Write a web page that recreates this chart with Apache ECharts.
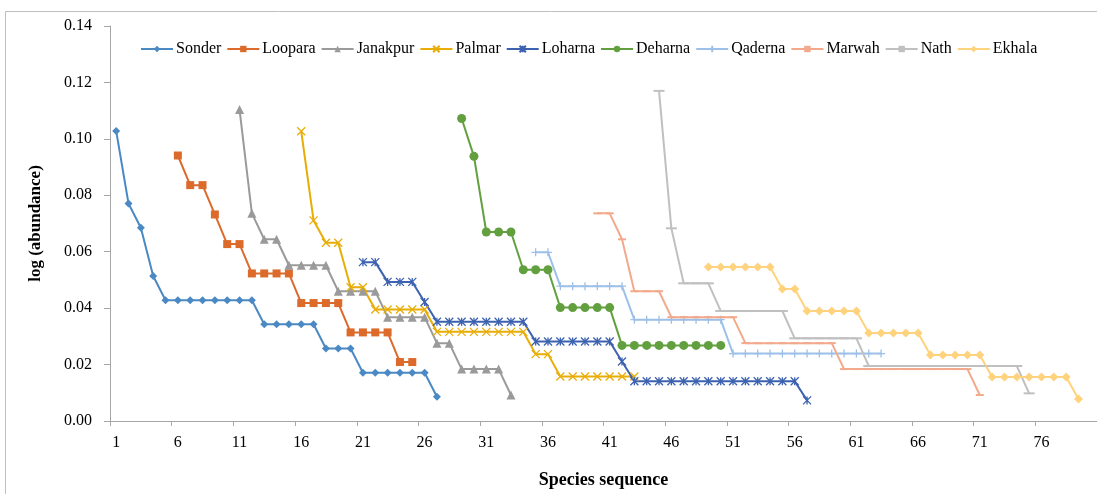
<!DOCTYPE html>
<html>
<head>
<meta charset="utf-8">
<script src="https://cdn.jsdelivr.net/npm/echarts@6.0.0/dist/echarts.min.js"></script>
<style>
  html, body { margin: 0; padding: 0; background: #fff; }
  #chart { width: 1097px; height: 494px; }
</style>
</head>
<body>
<div id="chart"></div>
<script>
// species sequence 1..80
var categories = [
  1, 2, 3, 4, 5, 6, 7, 8, 9, 10, 11, 12, 13, 14, 15, 16, 17, 18, 19, 20,
  21, 22, 23, 24, 25, 26, 27, 28, 29, 30, 31, 32, 33, 34, 35, 36, 37, 38, 39, 40,
  41, 42, 43, 44, 45, 46, 47, 48, 49, 50, 51, 52, 53, 54, 55, 56, 57, 58, 59, 60,
  61, 62, 63, 64, 65, 66, 67, 68, 69, 70, 71, 72, 73, 74, 75, 76, 77, 78, 79, 80
]
var yTicks = [0, 0.02, 0.04, 0.06, 0.08, 0.10, 0.12, 0.14]

// each site: first species position + log(abundance) values
var sonderStart = 1
var sonder = [0.1028, 0.0771, 0.0685, 0.0514,
  0.0428, 0.0428, 0.0428, 0.0428, 0.0428, 0.0428, 0.0428, 0.0428,
  0.0343, 0.0343, 0.0343, 0.0343, 0.0343,
  0.0257, 0.0257, 0.0257,
  0.0171, 0.0171, 0.0171, 0.0171, 0.0171, 0.0171,
  0.0086]
var looparaStart = 6
var loopara = [0.0941, 0.0836, 0.0836, 0.0732, 0.0627, 0.0627,
  0.0523, 0.0523, 0.0523, 0.0523,
  0.0418, 0.0418, 0.0418, 0.0418,
  0.0314, 0.0314, 0.0314, 0.0314,
  0.0209, 0.0209]
var janakpurStart = 11
var janakpur = [0.1104, 0.0736, 0.0644, 0.0644,
  0.0552, 0.0552, 0.0552, 0.0552,
  0.0460, 0.0460, 0.0460, 0.0460,
  0.0368, 0.0368, 0.0368, 0.0368,
  0.0276, 0.0276,
  0.0184, 0.0184, 0.0184, 0.0184,
  0.0092]
var palmarStart = 16
var palmar = [0.1027, 0.0711, 0.0632, 0.0632, 0.0474, 0.0474,
  0.0395, 0.0395, 0.0395, 0.0395, 0.0395,
  0.0316, 0.0316, 0.0316, 0.0316, 0.0316, 0.0316, 0.0316, 0.0316,
  0.0237, 0.0237,
  0.0158, 0.0158, 0.0158, 0.0158, 0.0158, 0.0158, 0.0158]
var loharnaStart = 21
var loharna = [0.0563, 0.0563, 0.0493, 0.0493, 0.0493, 0.0422,
  0.0352, 0.0352, 0.0352, 0.0352, 0.0352, 0.0352, 0.0352, 0.0352,
  0.0282, 0.0282, 0.0282, 0.0282, 0.0282, 0.0282, 0.0282,
  0.0211,
  0.0141, 0.0141, 0.0141, 0.0141, 0.0141, 0.0141, 0.0141,
  0.0141, 0.0141, 0.0141, 0.0141, 0.0141, 0.0141, 0.0141,
  0.0073]
var deharnaStart = 29
var deharna = [0.1072, 0.0938, 0.0670, 0.0670, 0.0670,
  0.0536, 0.0536, 0.0536,
  0.0402, 0.0402, 0.0402, 0.0402, 0.0402,
  0.0268, 0.0268, 0.0268, 0.0268, 0.0268, 0.0268, 0.0268, 0.0268, 0.0268]
var qadernaStart = 35
var qaderna = [0.0598, 0.0598,
  0.0478, 0.0478, 0.0478, 0.0478, 0.0478, 0.0478,
  0.0359, 0.0359, 0.0359, 0.0359, 0.0359, 0.0359, 0.0359, 0.0359,
  0.0239, 0.0239, 0.0239, 0.0239, 0.0239, 0.0239, 0.0239,
  0.0239, 0.0239, 0.0239, 0.0239, 0.0239, 0.0239]
var marwahStart = 40
var marwah = [0.0736, 0.0736, 0.0644,
  0.0460, 0.0460, 0.0460,
  0.0368, 0.0368, 0.0368, 0.0368, 0.0368, 0.0368,
  0.0276, 0.0276, 0.0276, 0.0276, 0.0276, 0.0276, 0.0276, 0.0276,
  0.0184, 0.0184, 0.0184, 0.0184, 0.0184, 0.0184, 0.0184, 0.0184, 0.0184, 0.0184, 0.0184,
  0.0092]
var nathStart = 45
var nath = [0.1170, 0.0683, 0.0488, 0.0488, 0.0488,
  0.0390, 0.0390, 0.0390, 0.0390, 0.0390, 0.0390,
  0.0293, 0.0293, 0.0293, 0.0293, 0.0293, 0.0293,
  0.0195, 0.0195, 0.0195, 0.0195, 0.0195, 0.0195, 0.0195,
  0.0195, 0.0195, 0.0195, 0.0195, 0.0195, 0.0195,
  0.0098]
var ekhalaStart = 49
var ekhala = [0.0546, 0.0546, 0.0546, 0.0546, 0.0546, 0.0546,
  0.0468, 0.0468,
  0.0390, 0.0390, 0.0390, 0.0390, 0.0390,
  0.0312, 0.0312, 0.0312, 0.0312, 0.0312,
  0.0234, 0.0234, 0.0234, 0.0234, 0.0234,
  0.0156, 0.0156, 0.0156, 0.0156, 0.0156, 0.0156, 0.0156,
  0.0078]

var FONT = 'Liberation Serif'

// marker shapes Excel uses that echarts has no builtin for
var SYM_X = 'path://M0,0L10,10M10,0L0,10'
var SYM_STAR = 'path://M0,0L10,10M10,0L0,10M5,0L5,10'
var SYM_PLUS = 'path://M5,0L5,10M0,5L10,5'
var SYM_DASH = 'path://M0,0H10V2H0Z'

// pad a site's values so they sit at their species positions
function place (start, values) {
  var out = []
  for (var i = 1; i < start; i++) out.push(null)
  return out.concat(values)
}

function makeSeries (name, start, values, color, symbol, size, stroke) {
  return {
    name: name,
    type: 'line',
    data: place(start, values),
    symbol: symbol,
    symbolSize: size,
    showSymbol: true,
    showAllSymbol: true,
    connectNulls: false,
    lineStyle: { color: color, width: 2 },
    itemStyle: stroke
      ? { color: color, borderColor: color, borderWidth: 1.3 }
      : { color: color, borderWidth: 0 },
    emphasis: { disabled: true }
  }
}

var chart = echarts.init(document.getElementById('chart'), null, { renderer: 'canvas' })

var option = {
  animation: false,
  backgroundColor: '#fff',
  graphic: [{
    type: 'rect',
    silent: true,
    shape: { x: 5.5, y: 11.5, width: 1200, height: 600 },
    style: { fill: 'none', stroke: '#bfbfbf', lineWidth: 1 }
  }],
  legend: {
    left: 140,
    top: 41,
    padding: 0,
    itemWidth: 32,
    itemHeight: 8,
    itemGap: 5,
    textStyle: { fontFamily: FONT, fontSize: 16, color: '#000', padding: [0, 0, 0, -2] },
    data: ['Sonder', 'Loopara', 'Janakpur', 'Palmar', 'Loharna', 'Deharna', 'Qaderna', 'Marwah', 'Nath', 'Ekhala']
  },
  grid: {
    left: 110,
    top: 26,
    width: 989,
    height: 409,
    containLabel: false
  },
  xAxis: {
    type: 'category',
    data: categories,
    boundaryGap: true,
    name: 'Species sequence',
    nameLocation: 'middle',
    nameGap: 50,
    nameTextStyle: { fontFamily: FONT, fontSize: 18, fontWeight: 'bold', color: '#000' },
    axisLine: { lineStyle: { color: '#a6a6a6', width: 1 } },
    axisTick: { show: true, interval: 4, length: 5, lineStyle: { color: '#a6a6a6' } },
    axisLabel: { interval: 4, margin: 14, fontFamily: FONT, fontSize: 16, color: '#000' },
    splitLine: { show: false }
  },
  yAxis: {
    type: 'value',
    min: yTicks[0],
    max: yTicks[yTicks.length - 1],
    interval: 0.02,
    name: 'log (abundance)',
    nameLocation: 'middle',
    nameGap: 66,
    nameTextStyle: { fontFamily: FONT, fontSize: 17, fontWeight: 'bold', color: '#000' },
    axisLine: { show: true, lineStyle: { color: '#a6a6a6', width: 1 } },
    axisTick: { show: true, length: 6, lineStyle: { color: '#a6a6a6' } },
    axisLabel: {
      margin: 18,
      fontFamily: FONT,
      fontSize: 16,
      color: '#000',
      formatter: function (v) { return v.toFixed(2) }
    },
    splitLine: { show: false }
  },
  series: [
    makeSeries('Sonder', sonderStart, sonder, '#4a89c4', 'diamond', 8),
    makeSeries('Loopara', looparaStart, loopara, '#dc6a2b', 'rect', 8),
    makeSeries('Janakpur', janakpurStart, janakpur, '#9a9a9a', 'triangle', 9),
    makeSeries('Palmar', palmarStart, palmar, '#e8ad07', SYM_X, 8, true),
    makeSeries('Loharna', loharnaStart, loharna, '#3c62b0', SYM_STAR, 8, true),
    makeSeries('Deharna', deharnaStart, deharna, '#62a03f', 'circle', 9),
    makeSeries('Qaderna', qadernaStart, qaderna, '#9dc0e8', SYM_PLUS, 8, true),
    makeSeries('Marwah', marwahStart, marwah, '#f3a98c', SYM_DASH, [8, 2]),
    makeSeries('Nath', nathStart, nath, '#c0c0c0', SYM_DASH, [11, 2]),
    makeSeries('Ekhala', ekhalaStart, ekhala, '#ffd27e', 'diamond', 9)
  ]
}

chart.setOption(option)
</script>
</body>
</html>
